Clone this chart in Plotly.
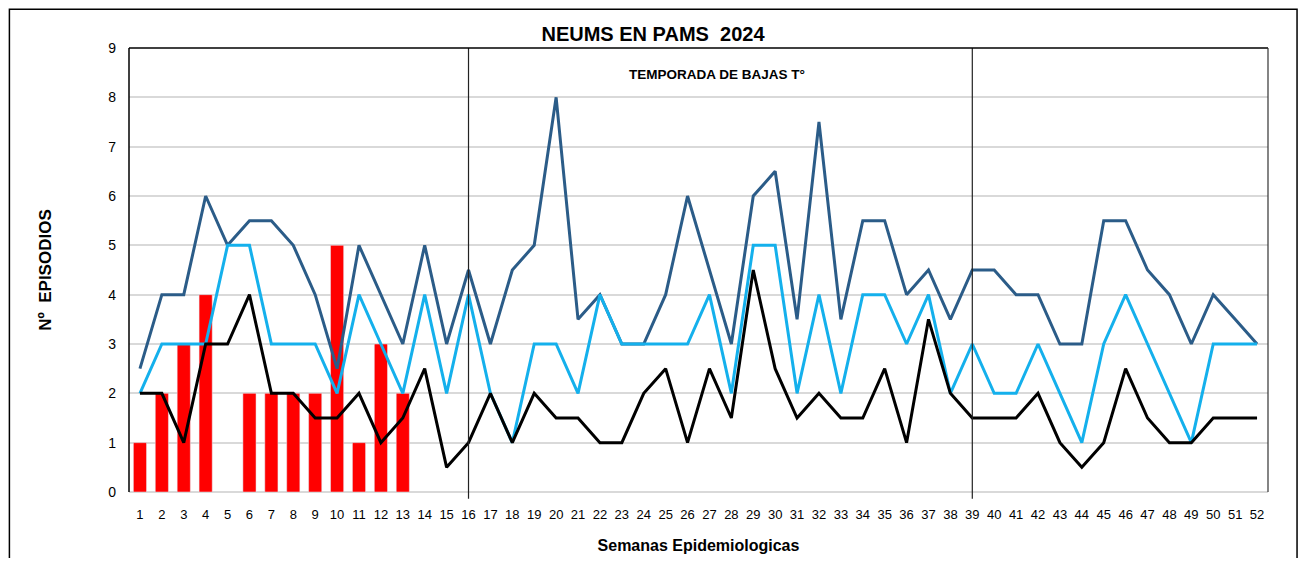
import plotly.graph_objects as go

weeks = list(range(1, 53))
week_labels = [str(w) for w in weeks]

bars_2024 = [1, 2, 3, 4, None, 2, 2, 2, 2, 5, 1, 3, 2] + [None] * 39

upper = [2.5, 4, 4, 6, 5, 5.5, 5.5, 5, 4, 2.5, 5, 4, 3, 5, 3, 4.5,
         3, 4.5, 5, 8, 3.5, 4, 3, 3, 4, 6, 4.5, 3, 6, 6.5, 3.5, 7.5,
         3.5, 5.5, 5.5, 4, 4.5, 3.5, 4.5, 4.5, 4, 4, 3, 3, 5.5, 5.5,
         4.5, 4, 3, 4, 3.5, 3]

middle = [2, 3, 3, 3, 5, 5, 3, 3, 3, 2, 4, 3, 2, 4, 2, 4,
          2, 1, 3, 3, 2, 4, 3, 3, 3, 3, 4, 2, 5, 5, 2, 4,
          2, 4, 4, 3, 4, 2, 3, 2, 2, 3, 2, 1, 3, 4, 3, 2,
          1, 3, 3, 3]

lower = [2, 2, 1, 3, 3, 4, 2, 2, 1.5, 1.5, 2, 1, 1.5, 2.5, 0.5, 1,
         2, 1, 2, 1.5, 1.5, 1, 1, 2, 2.5, 1, 2.5, 1.5, 4.5, 2.5, 1.5, 2,
         1.5, 1.5, 2.5, 1, 3.5, 2, 1.5, 1.5, 1.5, 2, 1, 0.5, 1, 2.5,
         1.5, 1, 1, 1.5, 1.5, 1.5]

season_marks = [16, 39]

font_main = "Liberation Sans Narrow, Liberation Sans, Arial, sans-serif"

fig = go.Figure()
fig.add_trace(go.Bar(x=weeks, y=bars_2024, marker_color="#FF0000",
                     width=0.6, name="2024"))
fig.add_trace(go.Scatter(x=weeks, y=upper, mode="lines",
                         line=dict(color="#2B5C88", width=3), name="Máximo"))
fig.add_trace(go.Scatter(x=weeks, y=middle, mode="lines",
                         line=dict(color="#14B0EC", width=3), name="Media"))
fig.add_trace(go.Scatter(x=weeks, y=lower, mode="lines",
                         line=dict(color="#000000", width=3), name="Mínimo"))

shapes = []
for w in season_marks:
    shapes.append(dict(type="line", xref="x", yref="paper", x0=w, x1=w,
                       y0=-0.015, y1=1, line=dict(color="#222222", width=1.2)))
# plot frame: left, top, right
shapes.append(dict(type="line", xref="paper", yref="paper", x0=0, x1=0, y0=0, y1=1,
                   line=dict(color="#000000", width=1.5)))
shapes.append(dict(type="line", xref="paper", yref="paper", x0=0, x1=1, y0=1, y1=1,
                   line=dict(color="#000000", width=1.5)))
shapes.append(dict(type="line", xref="paper", yref="paper", x0=1, x1=1, y0=0, y1=1,
                   line=dict(color="#333333", width=1.2)))
# outer chart border (bottom edge lies below the visible page)
shapes.append(dict(type="rect", xref="paper", yref="paper",
                   x0=-0.1050, x1=1.0255, y0=-0.30, y1=1.0875,
                   line=dict(color="#000000", width=1.5)))

fig.update_layout(
    width=1290, height=550,
    margin=dict(l=121, r=30, t=40, b=66, autoexpand=False),
    paper_bgcolor="white", plot_bgcolor="white",
    showlegend=False,
    bargap=0.4,
    title=dict(text="<b>NEUMS EN PAMS  2024</b>", x=0.5, xanchor="center",
               y=0.953, yanchor="middle",
               font=dict(family=font_main, size=20, color="#000000")),
    shapes=shapes,
    annotations=[dict(text="<b>TEMPORADA DE BAJAS T°</b>", xref="x", yref="y",
                      x=27.35, y=8.46, showarrow=False,
                      font=dict(family=font_main, size=13.5, color="#000000"))],
    xaxis=dict(range=[0.5, 52.5], tickmode="array", tickvals=weeks,
               ticktext=week_labels, showgrid=False, zeroline=False,
               showline=False, ticks="", automargin=False,
               ticklabelstandoff=13,
               tickfont=dict(family=font_main, size=13, color="#000000"),
               title=dict(text="<b>Semanas Epidemiologicas</b>", standoff=18,
                          font=dict(family=font_main, size=16, color="#000000"))),
    yaxis=dict(range=[0, 9], dtick=1, showgrid=True, gridcolor="#D9D9D9",
               gridwidth=1.5, zeroline=True, zerolinecolor="#D9D9D9",
               zerolinewidth=1.5, showline=False, ticks="", automargin=False,
               tickfont=dict(family=font_main, size=14, color="#000000"),
               ticklabelstandoff=12,
               title=dict(text="<b>Nº  EPISODIOS</b>", standoff=52,
                          font=dict(family=font_main, size=17, color="#000000"))),
)

fig.write_html("out.html")
